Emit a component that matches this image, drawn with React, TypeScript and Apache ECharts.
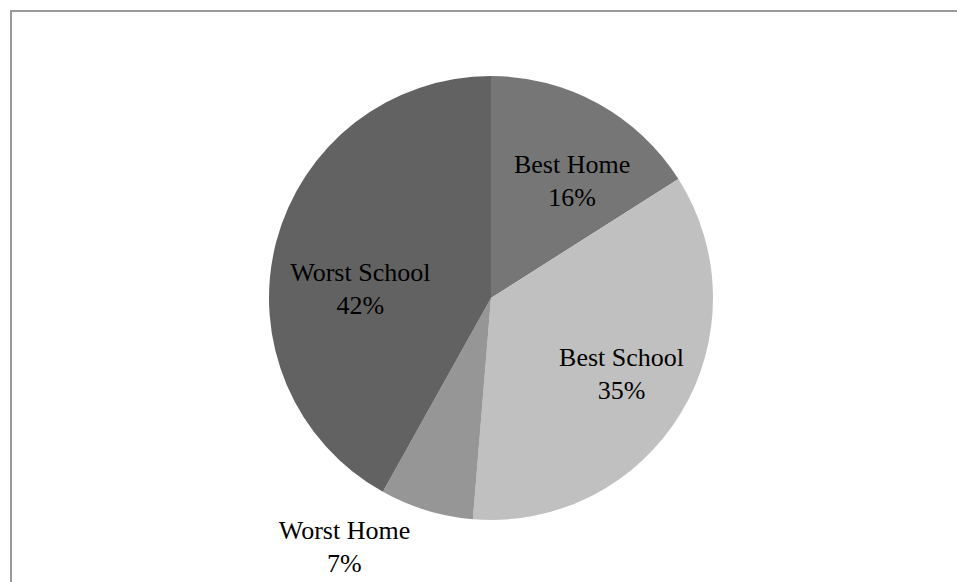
import React, { useEffect, useRef } from "react";
import * as echarts from "echarts";

const categories = ["Best Home", "Best School", "Worst Home", "Worst School"];
const values = [16.0, 35.3, 6.8, 41.9];
const colors = ["#767676", "#c0c0c0", "#969696", "#626262"];
// label placement (fraction of radius, angular shift in degrees) to mimic Excel's best-fit labels
const labelRadiusFactor = [0.64, 0.68, 1.3, 0.59];
const labelAngleShift = [6, -1, 13.6, -10.5];

const CX = 491;
const CY = 298;
const R = 222;

export default function App() {
  const ref = useRef<HTMLDivElement>(null);
  useEffect(() => {
    if (!ref.current) return;
    const chart = echarts.init(ref.current, undefined, { renderer: "svg" });
    const total = values.reduce((a, b) => a + b, 0);
    const mids: number[] = [];
    let acc = 0;
    values.forEach((v) => {
      mids.push(((acc + v / 2) / total) * 360);
      acc += v;
    });
    chart.setOption({
      animation: false,
      backgroundColor: "#ffffff",
      graphic: [
        {
          type: "rect",
          shape: { x: 11, y: 11, width: 2000, height: 2000 },
          style: { fill: "none", stroke: "#9a9a9a", lineWidth: 2 },
          silent: true,
        },
      ],
      series: [
        {
          type: "pie",
          center: [CX, CY],
          radius: [0, R],
          startAngle: 90,
          clockwise: true,
          avoidLabelOverlap: false,
          data: categories.map((name, i) => ({
            name,
            value: values[i],
            itemStyle: { color: colors[i] },
          })),
          label: {
            show: true,
            position: "inside",
            formatter: (p: any) => `${p.name}\n${Math.round(p.percent)}%`,
            fontFamily: "Liberation Serif",
            fontSize: 26,
            lineHeight: 33,
            color: "#000000",
            align: "center",
          },
          labelLine: { show: false },
          labelLayout: (p: any) => {
            const i = p.dataIndex;
            const ang = ((mids[i] + labelAngleShift[i]) * Math.PI) / 180;
            const rr = R * labelRadiusFactor[i];
            return {
              x: CX + rr * Math.sin(ang),
              y: CY - rr * Math.cos(ang),
              align: "center",
              verticalAlign: "middle",
            };
          },
          emphasis: { disabled: true },
        },
      ],
    });
    return () => chart.dispose();
  }, []);
  return (
    <div
      ref={ref}
      style={{ position: "fixed", left: 0, top: 0, width: 957, height: 582 }}
    />
  );
}
